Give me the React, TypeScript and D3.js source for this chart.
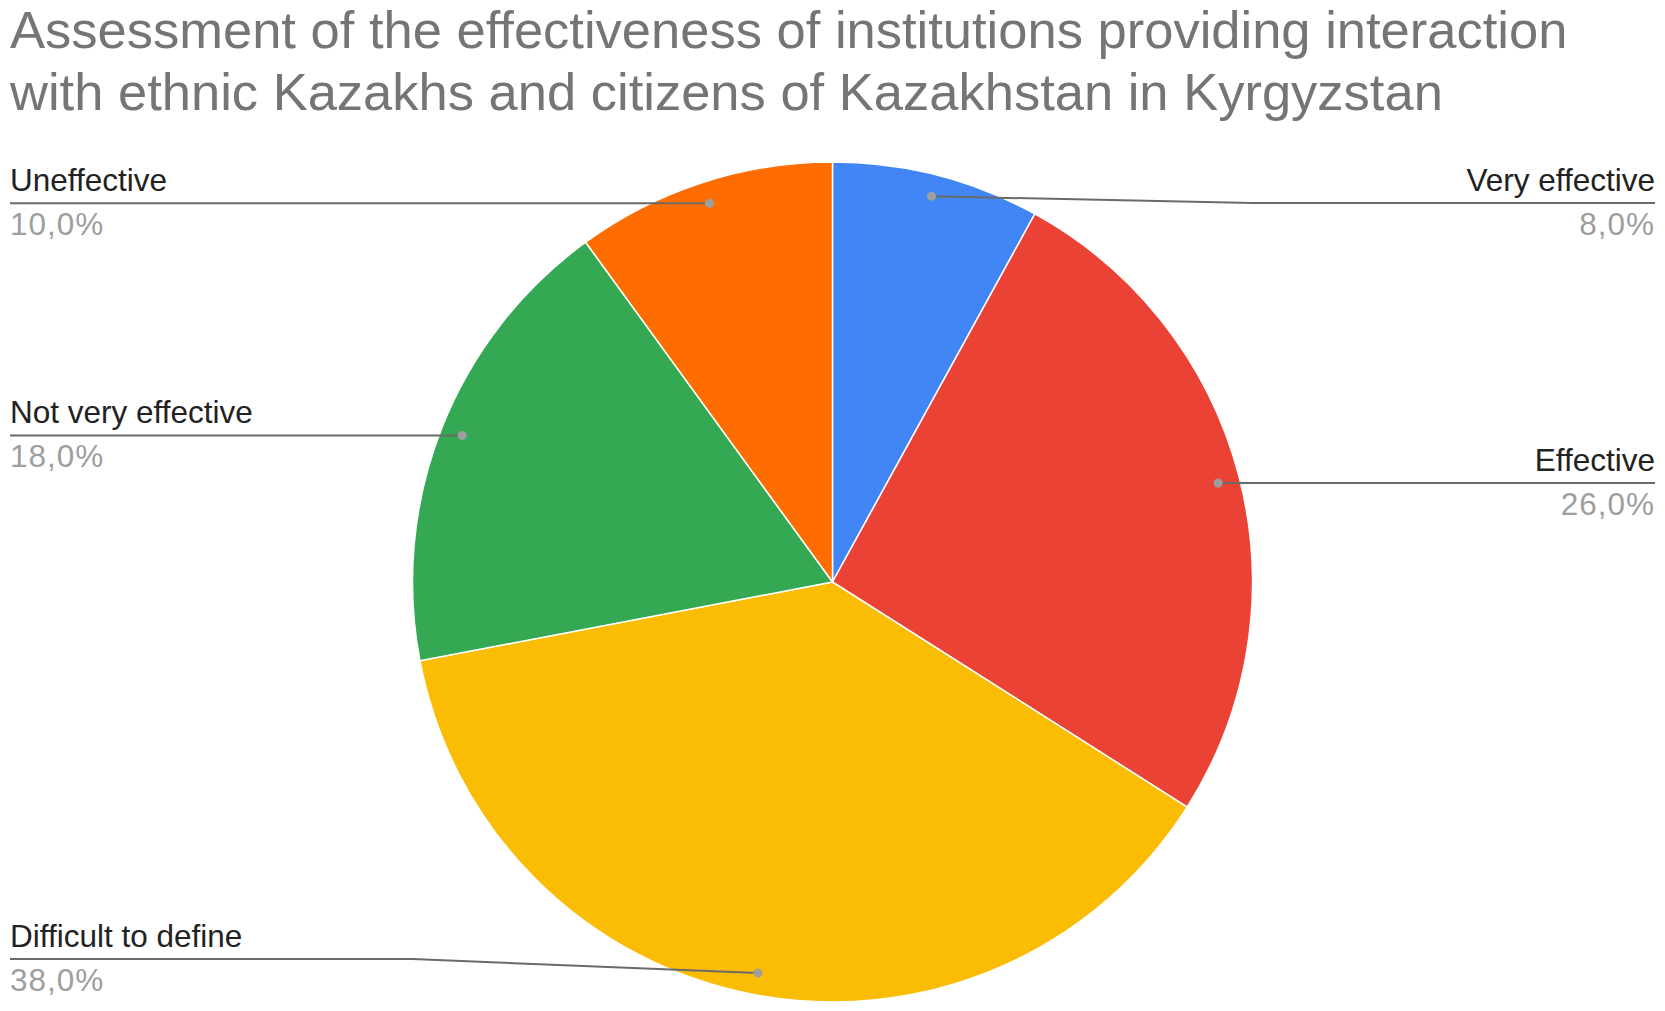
import * as d3 from 'd3'
import { useEffect, useRef } from 'react'

const titleLines = [
  'Assessment of the effectiveness of institutions providing interaction',
  'with ethnic Kazakhs and citizens of Kazakhstan in Kyrgyzstan',
]
const categories = ['Very effective', 'Effective', 'Difficult to define', 'Not very effective', 'Uneffective']
const shares = [8, 26, 38, 18, 10]
const colors = ['#4285f4', '#ea4335', '#fbbc04', '#34a853', '#ff6d01']

const width = 1665
const height = 1011
const font = '"Liberation Sans", Arial, sans-serif'

export default function App() {
  const ref = useRef<SVGSVGElement>(null)

  useEffect(() => {
    const svg = d3.select(ref.current)
    svg.selectAll('*').remove()

    const cx = 832.5
    const cy = 582
    const r = 420
    const labelLeft = 10
    const labelRight = 1655
    const lineTop = 203 // labels can't go higher than this (title)
    const lineBottom = 959 // nor lower, pct text needs room

    // title
    svg.append('g')
      .selectAll('text')
      .data(titleLines)
      .join('text')
      .attr('x', 10)
      .attr('y', (d, i) => 48 + i * 62)
      .attr('font-family', font)
      .attr('font-size', 52.5)
      .attr('fill', '#757575')
      .text(d => d)

    const data = categories.map((name, i) => ({ name, value: shares[i], color: colors[i] }))
    const pie = d3.pie<any>().sort(null).value(d => d.value)
    const arcs = pie(data)
    const arc = d3.arc<any>().innerRadius(0).outerRadius(r)

    const g = svg.append('g').attr('transform', `translate(${cx},${cy})`)
    g.selectAll('path')
      .data(arcs)
      .join('path')
      .attr('d', arc)
      .attr('fill', d => d.data.color)
      .attr('stroke', '#fff')
      .attr('stroke-width', 1.5)

    const total = d3.sum(shares)
    const dotR = r * 0.948

    arcs.forEach(a => {
      const mid = (a.startAngle + a.endAngle) / 2
      const dx = cx + dotR * Math.sin(mid)
      const dy = cy - dotR * Math.cos(mid)
      const right = mid < Math.PI
      const ly = Math.max(lineTop, Math.min(lineBottom, dy))
      const tx = right ? labelRight : labelLeft
      const bend = right ? cx + r : cx - r

      svg.append('path')
        .attr('d', `M${tx},${ly} L${bend},${ly} L${dx},${dy}`)
        .attr('fill', 'none')
        .attr('stroke', '#6a6a6a')
        .attr('stroke-width', 2)
      svg.append('circle')
        .attr('cx', dx)
        .attr('cy', dy)
        .attr('r', 4.5)
        .attr('fill', '#9e9e9e')

      svg.append('text')
        .attr('x', tx)
        .attr('y', ly - 12)
        .attr('text-anchor', right ? 'end' : 'start')
        .attr('font-family', font)
        .attr('font-size', 31.5)
        .attr('fill', '#222222')
        .text(a.data.name)
      svg.append('text')
        .attr('x', tx)
        .attr('y', ly + 32)
        .attr('text-anchor', right ? 'end' : 'start')
        .attr('font-family', font)
        .attr('font-size', 31.5)
        .attr('letter-spacing', 1)
        .attr('fill', '#9e9e9e')
        .text(`${(a.data.value / total * 100).toFixed(1).replace('.', ',')}%`)
    })
  }, [])

  return (
    <svg ref={ref} width={width} height={height}
      style={{ position: 'absolute', left: 0, top: 0, background: '#fff' }} />
  )
}
